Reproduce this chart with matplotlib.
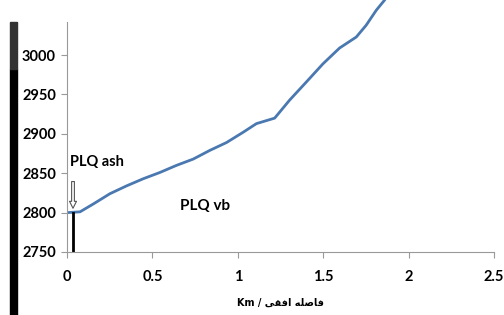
#!/usr/bin/env python

import matplotlib
matplotlib.use('Agg')
import matplotlib.pyplot as plt
from matplotlib.patches import Rectangle

# profile: horizontal distance (km) vs elevation (m)
distance = [0.0, 0.076, 0.154, 0.251, 0.349, 0.446, 0.544, 0.641, 0.739,
            0.836, 0.934, 1.031, 1.109, 1.216, 1.304, 1.402, 1.499, 1.596,
            1.694, 1.752, 1.811, 1.86, 1.90]
elevation = [2800, 2801, 2811, 2824, 2834, 2843, 2851, 2860, 2868,
             2879, 2889, 2902, 2913, 2920, 2943, 2966, 2989, 3009,
             3023, 3038, 3057, 3070, 3085]

x_ticks = [0, 0.5, 1, 1.5, 2, 2.5]
x_tick_labels = ['0', '0.5', '1', '1.5', '2', '2.5']
y_ticks = [2750, 2800, 2850, 2900, 2950, 3000]

# x label "فاصله افقی / Km", written in shaped visual order for matplotlib
xlabel = 'Km / \uFBFD\uFED8\uFED3\uFE8D \uFEEA\uFEE0\uFEBB\uFE8E\uFED3'

fig = plt.figure(figsize=(5.04, 3.15), dpi=100)
ax = fig.add_axes([0.133, 0.2, 0.847, 0.8])

ax.plot(distance, elevation, color='#4a78b0', linewidth=2, clip_on=True)

# marker of the contact at the start of the profile
ax.plot([0.035, 0.035], [2750, 2800], color='black', linewidth=2)
ax.annotate('', xy=(0.035, 2802), xytext=(0.035, 2843),
            arrowprops=dict(arrowstyle='simple,head_width=0.5,tail_width=0.2',
                            fc='white', ec='#555555', lw=0.8))
ax.text(0.02, 2855, 'PLQ ash', fontsize=10.5, fontweight='bold',
        family=['Lato', 'DejaVu Sans'], va='bottom', ha='left')
ax.text(0.66, 2808, 'PLQ vb', fontsize=11, fontweight='bold',
        family=['Lato', 'DejaVu Sans'], va='center', ha='left')

ax.set_xlim(0, 2.5)
ax.set_ylim(2750, 3070)
ax.set_xticks(x_ticks)
ax.set_xticklabels(x_tick_labels)
ax.set_yticks(y_ticks)
for lab in ax.get_xticklabels() + ax.get_yticklabels():
    lab.set_fontweight('bold')
    lab.set_fontfamily('Lato')
    lab.set_fontsize(10.5)
ax.tick_params(axis='both', length=4, color='#999999', pad=9)
ax.tick_params(axis='y', pad=4)

ax.spines['top'].set_visible(False)
ax.spines['right'].set_visible(False)
ax.spines['left'].set_color('#999999')
ax.spines['bottom'].set_color('#999999')
ax.spines['left'].set_bounds(2750, 3042)

ax.set_xlabel(xlabel, fontsize=7, fontweight='bold',
              family=['DejaVu Sans'], labelpad=10)

# dark bar along the left edge of the scanned figure
fig.patches.append(Rectangle((0.02, 0.0), 0.014, 0.78, transform=fig.transFigure,
                             color='black', zorder=0))
fig.patches.append(Rectangle((0.02, 0.78), 0.014, 0.15, transform=fig.transFigure,
                             color='#333333', zorder=0))

fig.savefig('out.png', dpi=100)
